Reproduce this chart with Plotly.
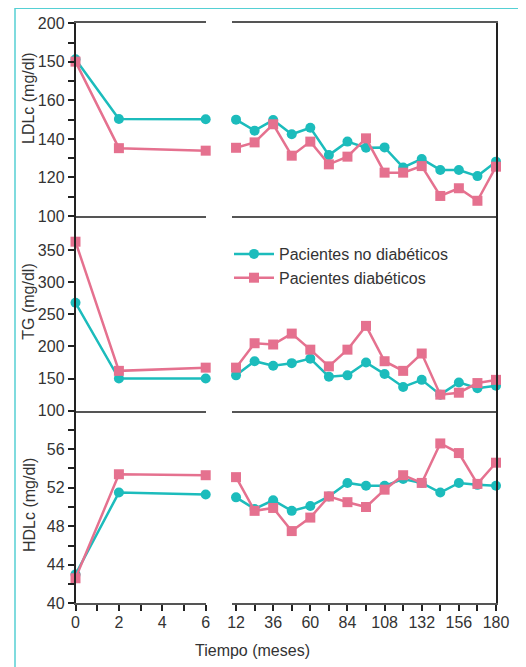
import plotly.graph_objects as go

# ---------------- data ----------------
months_early = [0, 2, 6]
months_late = [12, 24, 36, 48, 60, 72, 84, 96, 108, 120, 132, 144, 156, 168, 180]

ldl_nd_early = [181.3, 150.3, 150.2]
ldl_d_early = [180.1, 135.2, 133.9]
ldl_nd_late = [150.0, 144.3, 149.8, 142.4, 145.8, 131.6, 138.6, 135.4, 135.6, 125.2, 129.6, 123.9, 123.9, 120.7, 128.2]
ldl_d_late = [135.4, 138.2, 147.6, 131.3, 138.6, 126.8, 130.8, 140.3, 122.5, 122.5, 125.9, 110.4, 114.4, 107.9, 125.6]

tg_nd_early = [268, 150, 150]
tg_d_early = [363, 162, 167]
tg_nd_late = [155, 177, 170, 174, 181, 153, 155, 175, 157, 137, 148, 125, 144, 135, 139]
tg_d_late = [167, 205, 203, 220, 195, 169, 195, 232, 177, 162, 189, 125, 128, 143, 148]

hdl_nd_early = [43.0, 51.5, 51.3]
hdl_d_early = [42.6, 53.4, 53.3]
hdl_nd_late = [51.0, 49.8, 50.7, 49.6, 50.1, 51.1, 52.5, 52.2, 52.2, 52.9, 52.5, 51.5, 52.5, 52.3, 52.2]
hdl_d_late = [53.1, 49.6, 49.9, 47.5, 48.9, 51.1, 50.5, 50.0, 51.8, 53.3, 52.5, 56.6, 55.6, 52.4, 54.6]

name_nd = "Pacientes no diabéticos"
name_d = "Pacientes diabéticos"

ldl_ticks = [100, 120, 140, 160, 180, 200]
ldl_ticktext = ["100", "120", "140", "160", "150", "200"]
ldl_minor = [110, 130, 150, 170, 190]
tg_ticks = [100, 150, 200, 250, 300, 350]
hdl_ticks = [40, 44, 48, 52, 56]
hdl_minor = [42, 46, 50, 54, 58]
x_early_ticks = [0, 2, 4, 6]
x_early_minor = [1, 3, 5]
x_late_ticks = [12, 36, 60, 84, 108, 132, 156, 180]
x_late_minor = [24, 48, 72, 96, 120, 144, 168]

# ---------------- style ----------------
TEAL = "#1cbcbc"
PINK = "#e5718f"
TXT = "#333333"
HLINE = "#555555"
VLINE = "#222222"
FONT = "Liberation Sans, Arial, sans-serif"
OFF = 8            # default page body margin
W, H = 526 - OFF, 667 - OFF

def px(x):
    return (x - OFF) / W

def py(y):
    return (H - (y - OFF)) / H

fig = go.Figure()

panels = [
    (ldl_nd_early, ldl_d_early, ldl_nd_late, ldl_d_late),
    (tg_nd_early, tg_d_early, tg_nd_late, tg_d_late),
    (hdl_nd_early, hdl_d_early, hdl_nd_late, hdl_d_late),
]

for r, (nde, de, ndl, dl) in enumerate(panels):
    ax_l = 2 * r + 1
    ax_r = 2 * r + 2
    for ax, xs, nd, d in [(ax_l, months_early, nde, de), (ax_r, months_late, ndl, dl)]:
        xa = "x" if ax == 1 else f"x{ax}"
        ya = "y" if ax == 1 else f"y{ax}"
        show = (ax == 1)
        fig.add_trace(go.Scatter(
            x=xs, y=nd, xaxis=xa, yaxis=ya, mode="lines+markers", name=name_nd,
            line=dict(color=TEAL, width=2.5), marker=dict(symbol="circle", size=10, color=TEAL),
            showlegend=show, legendgroup="nd", cliponaxis=False))
        fig.add_trace(go.Scatter(
            x=xs, y=d, xaxis=xa, yaxis=ya, mode="lines+markers", name=name_d,
            line=dict(color=PINK, width=2.5), marker=dict(symbol="square", size=10, color=PINK),
            showlegend=show, legendgroup="d", cliponaxis=False))

# domains
xdom_l = [px(75.5), px(205.7)]
xdom_r = [px(231.7), px(496.0)]
row_px = [(23.3, 216.0), (216.0, 410.7), (410.7, 603.3)]
ydoms = [[py(b), py(t)] for (t, b) in row_px]

yranges = [[100, 200], [100, 403], [40, 60]]
ytickinfo = [
    dict(tickvals=ldl_ticks, ticktext=ldl_ticktext, minor=dict(tickvals=ldl_minor, ticks="outside", ticklen=6, tickcolor=VLINE, tickwidth=1.5)),
    dict(tickvals=tg_ticks, ticktext=[str(v) for v in tg_ticks]),
    dict(tickvals=hdl_ticks, ticktext=[str(v) for v in hdl_ticks], minor=dict(tickvals=hdl_minor, ticks="outside", ticklen=6, tickcolor=VLINE, tickwidth=1.5)),
]

layout = {}
for r in range(3):
    for c in range(2):
        ax = 2 * r + c + 1
        xkey = "xaxis" if ax == 1 else f"xaxis{ax}"
        ykey = "yaxis" if ax == 1 else f"yaxis{ax}"
        yanchor = "y" if ax == 1 else f"y{ax}"
        xanchor = "x" if ax == 1 else f"x{ax}"
        bottom = (r == 2)
        xa = dict(domain=xdom_l if c == 0 else xdom_r,
                  range=[0, 6] if c == 0 else [9.2, 180],
                  anchor=yanchor, showgrid=False, zeroline=False, automargin=False,
                  showline=True, linecolor=HLINE, linewidth=1.5, mirror=(r == 0),
                  fixedrange=True)
        if bottom:
            if c == 0:
                xa.update(tickmode="array", tickvals=x_early_ticks, ticktext=[str(v) for v in x_early_ticks],
                          minor=dict(tickvals=x_early_minor, ticks="outside", ticklen=6, tickcolor=VLINE, tickwidth=1.5))
            else:
                xa.update(tickmode="array", tickvals=x_late_ticks, ticktext=[str(v) for v in x_late_ticks],
                          minor=dict(tickvals=x_late_minor, ticks="outside", ticklen=6, tickcolor=VLINE, tickwidth=1.5))
            xa.update(ticks="outside", ticklen=6, tickcolor=VLINE, tickwidth=1.5, ticklabelstandoff=-2,
                      tickfont=dict(size=16, color=TXT, family=FONT), showticklabels=True)
        else:
            xa.update(ticks="", showticklabels=False)
        layout[xkey] = xa

        ya = dict(domain=ydoms[r], range=yranges[r], anchor=xanchor, showgrid=False, zeroline=False,
                  automargin=False, showline=True, linecolor=VLINE, linewidth=1.5, fixedrange=True)
        if c == 0:
            ya.update(tickmode="array", ticks="outside", ticklen=6, tickcolor=VLINE, tickwidth=1.5,
                      tickfont=dict(size=16, color=TXT, family=FONT), **ytickinfo[r])
        else:
            ya.update(side="right", ticks="", showticklabels=False)
        layout[ykey] = ya

fig.update_layout(**layout)

# y-axis titles and x title as annotations
titles = [("LDLc (mg/dl)", 98), ("TG (mg/dl)", 301.7), ("HDLc (mg/dl)", 505)]
for t, yc in titles:
    fig.add_annotation(text=t, x=px(29), y=py(yc), xref="paper", yref="paper",
                       showarrow=False, textangle=-90, xanchor="center", yanchor="middle",
                       font=dict(size=16, color=TXT, family=FONT))
fig.add_annotation(text="Tiempo (meses)", x=px(252.3), y=py(650.7), xref="paper", yref="paper",
                   showarrow=False, xanchor="center", yanchor="middle",
                   font=dict(size=16, color=TXT, family=FONT))

# outer teal frame
fig.add_shape(type="rect", xref="paper", yref="paper",
              x0=px(15), x1=px(520.3), y0=py(700), y1=py(8.3),
              line=dict(color="#55d0d4", width=1.5), layer="below")

fig.update_layout(
    width=W, height=H,
    margin=dict(l=0, r=0, t=0, b=0, autoexpand=False),
    paper_bgcolor="white", plot_bgcolor="white",
    font=dict(family=FONT, size=16, color=TXT),
    showlegend=True,
    legend=dict(x=px(229), y=py(237), xanchor="left", yanchor="top",
                bgcolor="rgba(0,0,0,0)", borderwidth=0, itemwidth=40,
                font=dict(size=16, color=TXT, family=FONT), tracegroupgap=0),
)

fig.write_html("out.html")
